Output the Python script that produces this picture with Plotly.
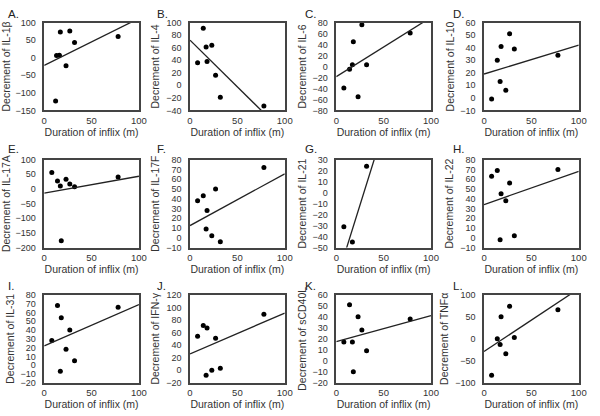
import plotly.graph_objects as go
from plotly.subplots import make_subplots

# durations (x) shared by most panels
x_common = [8, 14, 17, 18, 23, 27, 32, 78]
x_A = [12, 13, 16, 17, 23, 27, 32, 78]
x_G = [8, 17, 32]

y_A = [-123, 6, 7, 73, -23, 76, 43, 60]
y_B = [36, 91, 61, 38, 64, 16, -19, -33]
y_C = [-39, -5, 3, 45, -55, 76, 3, 61]
y_D = [-1, 30, 13, 41, 6, 51, 39, 34]
y_E = [56, 27, 10, -177, 33, 17, 8, 41]
y_F = [38, 43, 9, 28, 2, 50, -4, 72]
y_G = [-31, -45, 24]
y_H = [63, 69, -2, 45, 38, 56, 2, 70]
y_I = [28, 68, -7, 54, 18, 40, 5, 66]
y_J = [54, 71, -8, 67, 0, 51, 3, 89]
y_K = [17, 51, 17, -10, 40, 28, 9, 38]
y_L = [-83, 0, -13, 50, -34, 74, 3, 66]

# trend lines
trend_intercept = [-22, 72, -18.5, 19, -14, 12.5, -80.4, 34, 22, 26, 17.5, -29]
trend_slope = [1.34, -1.49, 1.08, 0.23, 0.575, 0.53, 2.76, 0.34, 0.47, 0.65, 0.236, 1.43]

letters = ["A.", "B.", "C.", "D.", "E.", "F.", "G.", "H.", "I.", "J.", "K.", "L."]
markers = ["IL-1β", "IL-4", "IL-6", "IL-10", "IL-17A", "IL-17F", "IL-21", "IL-22",
           "IL-31", "IFN-γ", "sCD40L", "TNFα"]
y_ranges = [(-150, 100), (-40, 100), (-80, 80), (-10, 60), (-200, 100), (-10, 80),
            (-50, 30), (-10, 80), (-20, 80), (-20, 120), (-20, 60), (-100, 100)]
y_dticks = [50, 20, 20, 10, 50, 10, 10, 10, 10, 20, 10, 50]

xs = [x_A, x_common, x_common, x_common, x_common, x_common, x_G, x_common,
      x_common, x_common, x_common, x_common]
ys = [y_A, y_B, y_C, y_D, y_E, y_F, y_G, y_H, y_I, y_J, y_K, y_L]

W, H = 600, 416
col_left = [42, 190.5, 339.5, 490]
col_w = 96.5
row_top = [18, 158.5, 297]
row_h = 90

font = "Liberation Sans, Arial"
txt = "#333333"

fig = make_subplots(rows=3, cols=4)

for i in range(12):
    r, c = i // 4 + 1, i % 4 + 1
    fig.add_trace(go.Scatter(x=xs[i], y=ys[i], mode="markers",
                             marker=dict(color="black", size=5), showlegend=False),
                  row=r, col=c)
    lx = [0, 100]
    ly = [trend_intercept[i] + trend_slope[i] * v for v in lx]
    fig.add_trace(go.Scatter(x=lx, y=ly, mode="lines",
                             line=dict(color="#222222", width=1.3), showlegend=False),
                  row=r, col=c)

    n = "" if i == 0 else str(i + 1)
    x0 = col_left[c - 1] / W
    x1 = (col_left[c - 1] + col_w) / W
    y1 = 1 - row_top[r - 1] / H
    y0 = 1 - (row_top[r - 1] + row_h) / H
    fig.layout["xaxis" + n].update(
        domain=[x0, x1], range=[0, 100], dtick=50, ticks="", ticklen=0, showgrid=False,
        zeroline=False, showline=True, mirror=True, linecolor="#444", linewidth=1.5,
        tickfont=dict(size=9.5, color=txt, family=font), ticklabelstandoff=0,
        title=dict(text="Duration of inflix (m)", standoff=0,
                   font=dict(size=10.5, color=txt, family=font)))
    fig.layout["yaxis" + n].update(
        domain=[y0, y1], range=list(y_ranges[i]), dtick=y_dticks[i], ticks="",
        ticklen=0, showgrid=False, zeroline=False, showline=True, mirror=True,
        linecolor="#444", linewidth=1.5, ticklabelstandoff=5,
        tickfont=dict(size=9, color=txt, family=font),
        title=dict(text="Decrement of " + markers[i], standoff=4,
                   font=dict(size=10.5, color=txt, family=font)))

    lx_pos = [3, 155, 306, 456][c - 1]
    ly_pos = [9, 148, 288][r - 1]
    fig.add_annotation(text=letters[i], xref="paper", yref="paper",
                       x=lx_pos / W, y=1 - ly_pos / H, xanchor="left", yanchor="middle",
                       showarrow=False, font=dict(size=11.5, color="#222", family=font))

fig.update_layout(width=W, height=H, margin=dict(l=0, r=0, t=0, b=0),
                  plot_bgcolor="white", paper_bgcolor="white")

fig.write_html("out.html", config={"displayModeBar": False},
               post_script="document.body.style.margin='0';")
